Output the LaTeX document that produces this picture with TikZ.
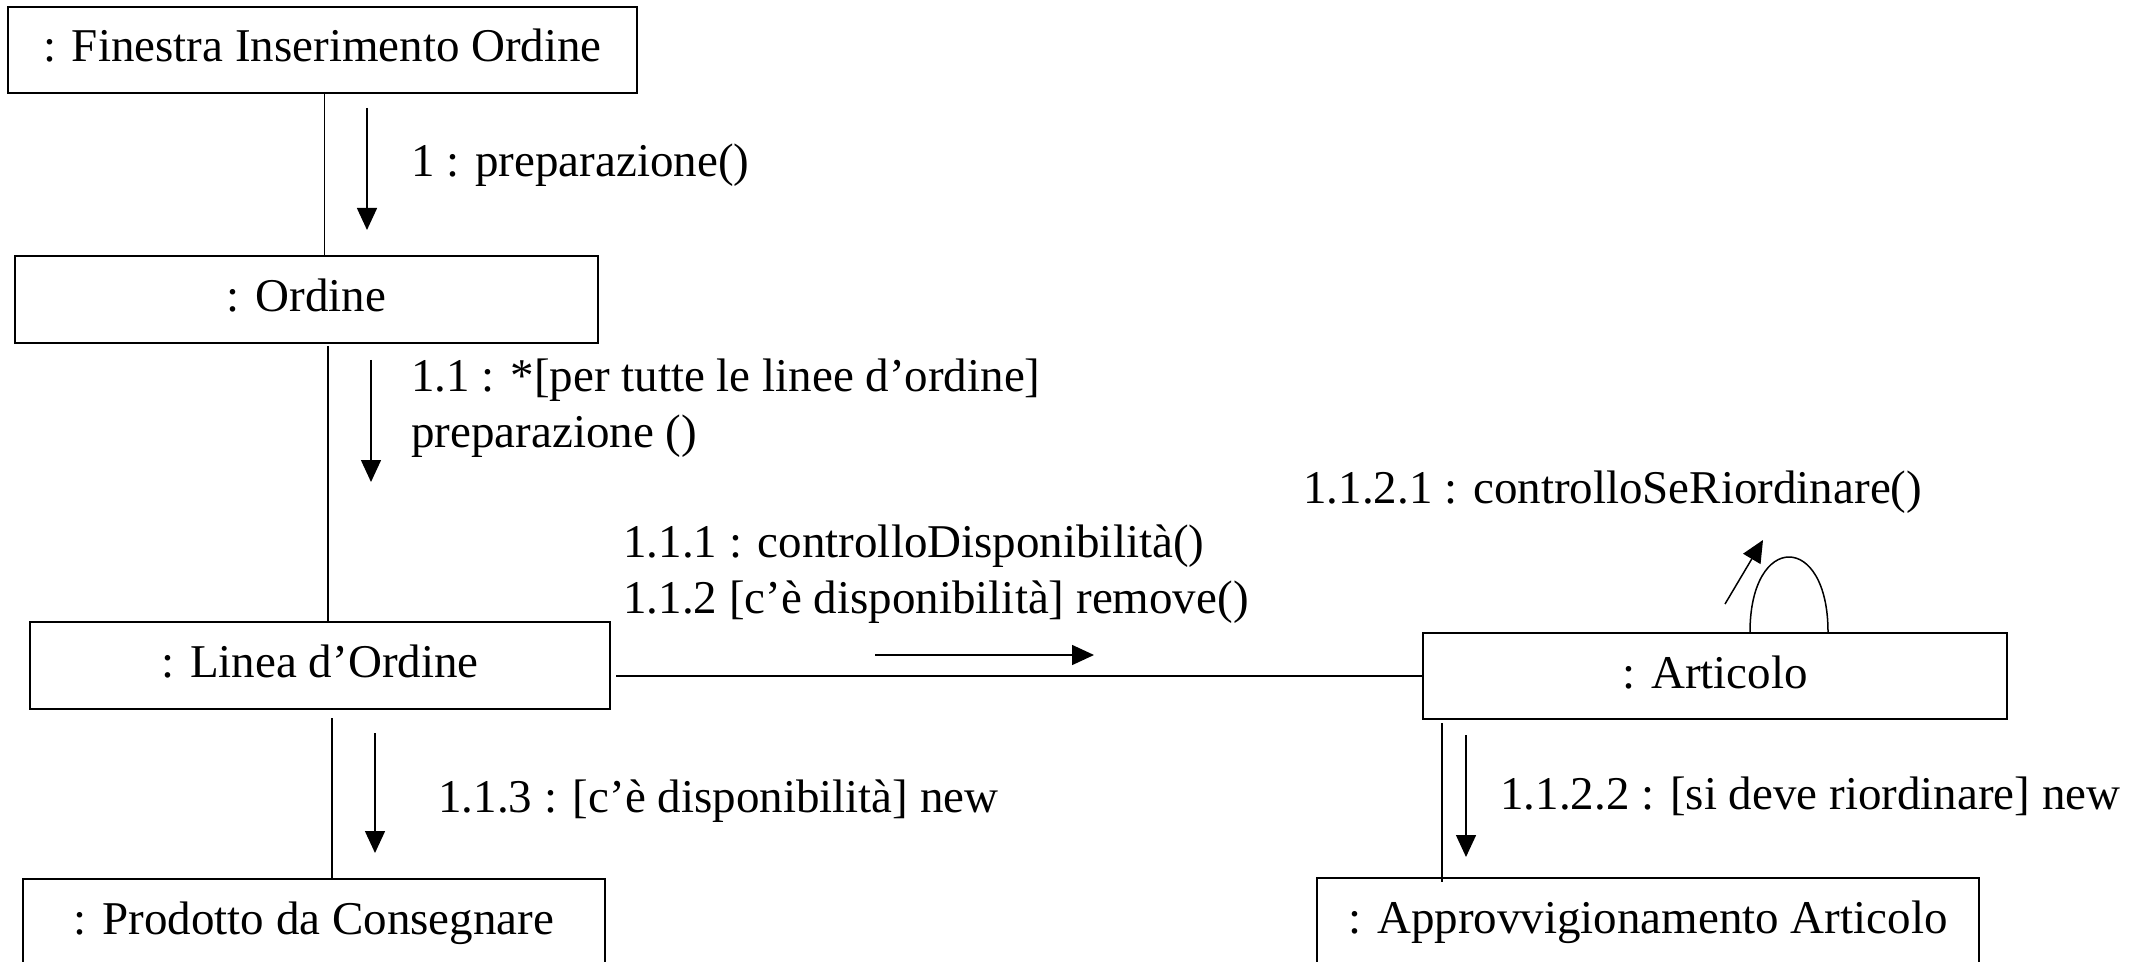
\documentclass[tikz,border=0pt]{standalone}
\usepackage{fontspec}
\setmainfont{Liberation Serif}
\usetikzlibrary{arrows.meta}
\begin{document}
\begin{tikzpicture}[x=0.5pt,y=-0.5pt,
  every node/.style={font=\fontsize{23.5pt}{28pt}\selectfont},
  obj/.style={draw, line width=1pt, inner sep=0pt, text height=16pt, text depth=4pt},
  link/.style={line width=0.75pt},
  msg/.style={line width=0.75pt, -{Triangle[length=11pt,width=10pt]}},
  lbl/.style={anchor=base west, inner sep=0pt}]
\useasboundingbox (0,0) rectangle (2145,962);
\clip (0,0) rectangle (2145,962);
% objects
\node[obj, minimum width=314.5pt, minimum height=43pt] (fin) at (322.5,50) {: Finestra Inserimento Ordine};
\node[obj, minimum width=291.5pt, minimum height=43.5pt] (ord) at (306.5,299.5) {: Ordine};
\node[obj, minimum width=290pt, minimum height=43.5pt] (lin) at (320,665.5) {: Linea d’Ordine};
\node[obj, minimum width=292pt, minimum height=43pt] (art) at (1715,676) {: Articolo};
\node[obj, minimum width=291pt, minimum height=43.5pt] (prod) at (314,922.5) {: Prodotto da Consegnare};
\node[obj, minimum width=331pt, minimum height=43.5pt] (app) at (1648,921.5) {: Approvvigionamento Articolo};
% links
\coordinate (c1) at ([xshift=1pt]fin.south);
\draw[link] (c1) -- (c1 |- ord.north);
\coordinate (c2) at ([xshift=10.75pt,yshift=-1pt]ord.south);
\draw[link] (c2) -- (c2 |- lin.north);
\coordinate (c3) at ([xshift=6pt,yshift=-4pt]lin.south);
\draw[link] (c3) -- (c3 |- prod.north);
\coordinate (c4) at ([xshift=2.5pt]lin.east |- art.west);
\draw[link] (c4) -- (art.west);
\coordinate (c5) at ([xshift=10pt,yshift=-1.5pt]art.south west);
\coordinate (c6) at ([yshift=-2.5pt]c5 |- app.north);
\draw[link] (c5) -- (c6);
\coordinate (l1) at ([xshift=17.5pt]art.north);
\coordinate (l2) at ([xshift=56.5pt]art.north);
\draw[link] (l1) .. controls +(0,-100) and +(0,-100) .. (l2);
% messages
\coordinate (a1s) at (367,108);  \coordinate (a1e) at (367,230);
\draw[msg] (a1s) -- (a1e);
\coordinate (a2s) at (371,360);  \coordinate (a2e) at (371,482);
\draw[msg] (a2s) -- (a2e);
\coordinate (a3s) at (875,655);  \coordinate (a3e) at (1094,655);
\draw[msg] (a3s) -- (a3e);
\coordinate (a4s) at (375,733);  \coordinate (a4e) at (375,853);
\draw[msg] (a4s) -- (a4e);
\coordinate (a5s) at (1725,604); \coordinate (a5e) at (1763,540);
\draw[msg] (a5s) -- (a5e);
\coordinate (a6s) at (1466,735); \coordinate (a6e) at (1466,857);
\draw[msg] (a6s) -- (a6e);
% labels
\node[lbl] (m1) at (411,177) {1 : preparazione()};
\node[lbl] (m2a) at (411,392) {1.1 : *[per tutte le linee d’ordine]};
\node[lbl] (m2b) at (411,447) {preparazione ()};
\node[lbl] (m3a) at (623,557) {1.1.1 : controlloDisponibilità()};
\node[lbl] (m3b) at (623,613) {1.1.2 [c’è disponibilità] remove()};
\node[lbl] (m4) at (438,812) {1.1.3 : [c’è disponibilità] new};
\node[lbl] (m5) at (1303,503) {1.1.2.1 : controlloSeRiordinare()};
\node[lbl] (m6) at (1500,809) {1.1.2.2 : [si deve riordinare] new};
\end{tikzpicture}
\end{document}
